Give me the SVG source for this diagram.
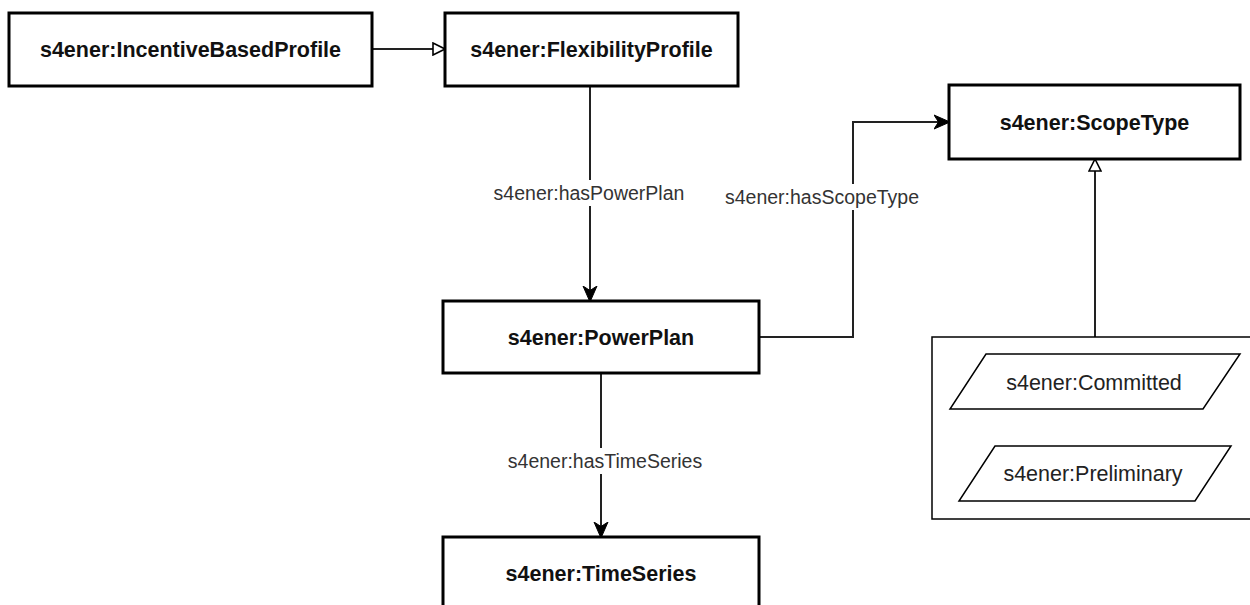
<svg xmlns="http://www.w3.org/2000/svg" width="1250" height="605" viewBox="0 0 1250 605">
  <style>
    .node { fill: #ffffff; stroke: #000000; stroke-width: 3; }
    .inst { fill: #ffffff; stroke: #000000; stroke-width: 1.5; }
    .group { fill: #ffffff; stroke: #000000; stroke-width: 1.5; }
    .ntext { font-family: "Liberation Sans", Arial, sans-serif; font-size: 21.5px; font-weight: bold; fill: #111111; text-anchor: middle; }
    .itext { font-family: "Liberation Sans", Arial, sans-serif; font-size: 21.5px; fill: #222222; text-anchor: middle; }
    .elabel { font-family: "Liberation Sans", Arial, sans-serif; font-size: 19.5px; fill: #333333; text-anchor: middle; }
    .edge { fill: none; stroke: #222222; stroke-width: 2; }
    .lblbg { fill: #ffffff; stroke: none; }
  </style>
  <defs>
    <marker id="classic" viewBox="0 0 16 16" refX="15" refY="8" markerWidth="16" markerHeight="16" markerUnits="userSpaceOnUse" orient="auto">
      <path d="M0,1 L16,8 L0,15 L4.5,8 Z" fill="#000000" stroke="#000000" stroke-width="1"/>
    </marker>
    <marker id="hollow" viewBox="0 0 14 14" refX="13" refY="7" markerWidth="14" markerHeight="14" markerUnits="userSpaceOnUse" orient="auto">
      <path d="M1,1 L13,7 L1,13 Z" fill="#ffffff" stroke="#000000" stroke-width="1.6"/>
    </marker>
  </defs>

  <rect x="0" y="0" width="1250" height="605" fill="#ffffff"/>

  <g id="connectors">
    <line class="edge" x1="372" y1="49" x2="445" y2="49" marker-end="url(#hollow)"/>
    <line class="edge" x1="590" y1="86" x2="590" y2="301" marker-end="url(#classic)"/>
    <line class="edge" x1="601" y1="373" x2="601" y2="537" marker-end="url(#classic)"/>
    <path class="edge" d="M759,337 H853 V122 H949" marker-end="url(#classic)"/>
    <line class="edge" x1="1095" y1="337" x2="1095" y2="159" marker-end="url(#hollow)"/>
    <g id="edge-labels">
      <rect class="lblbg" x="492" y="180" width="194" height="26"/>
      <text class="elabel" x="589" y="200">s4ener:hasPowerPlan</text>
      <rect class="lblbg" x="505" y="448" width="199" height="26"/>
      <text class="elabel" x="605" y="468">s4ener:hasTimeSeries</text>
      <rect class="lblbg" x="724" y="184" width="197" height="26"/>
      <text class="elabel" x="822" y="204">s4ener:hasScopeType</text>
    </g>
  </g>

  <g id="node-incentivebasedprofile">
    <rect class="node" x="9" y="13" width="363" height="73"/>
    <text class="ntext" x="190.5" y="57">s4ener:IncentiveBasedProfile</text>
  </g>
  <g id="node-flexibilityprofile">
    <rect class="node" x="445" y="13" width="293" height="73"/>
    <text class="ntext" x="591.5" y="57">s4ener:FlexibilityProfile</text>
  </g>
  <g id="node-powerplan">
    <rect class="node" x="443" y="301" width="316" height="72"/>
    <text class="ntext" x="601" y="345">s4ener:PowerPlan</text>
  </g>
  <g id="node-timeseries">
    <rect class="node" x="443" y="537" width="316" height="74"/>
    <text class="ntext" x="601" y="581">s4ener:TimeSeries</text>
  </g>
  <g id="node-scopetype">
    <rect class="node" x="949" y="85" width="291" height="74"/>
    <text class="ntext" x="1094.5" y="130">s4ener:ScopeType</text>
  </g>
  <g id="node-scopetype-instances">
    <rect class="group" x="932" y="337" width="330" height="182"/>
    <g id="node-committed">
      <polygon class="inst" points="986,354 1240,354 1203,409 950,409"/>
      <text class="itext" x="1094" y="390">s4ener:Committed</text>
    </g>
    <g id="node-preliminary">
      <polygon class="inst" points="995,446 1231,446 1195,501 959,501"/>
      <text class="itext" x="1093" y="481">s4ener:Preliminary</text>
    </g>
  </g>
</svg>
